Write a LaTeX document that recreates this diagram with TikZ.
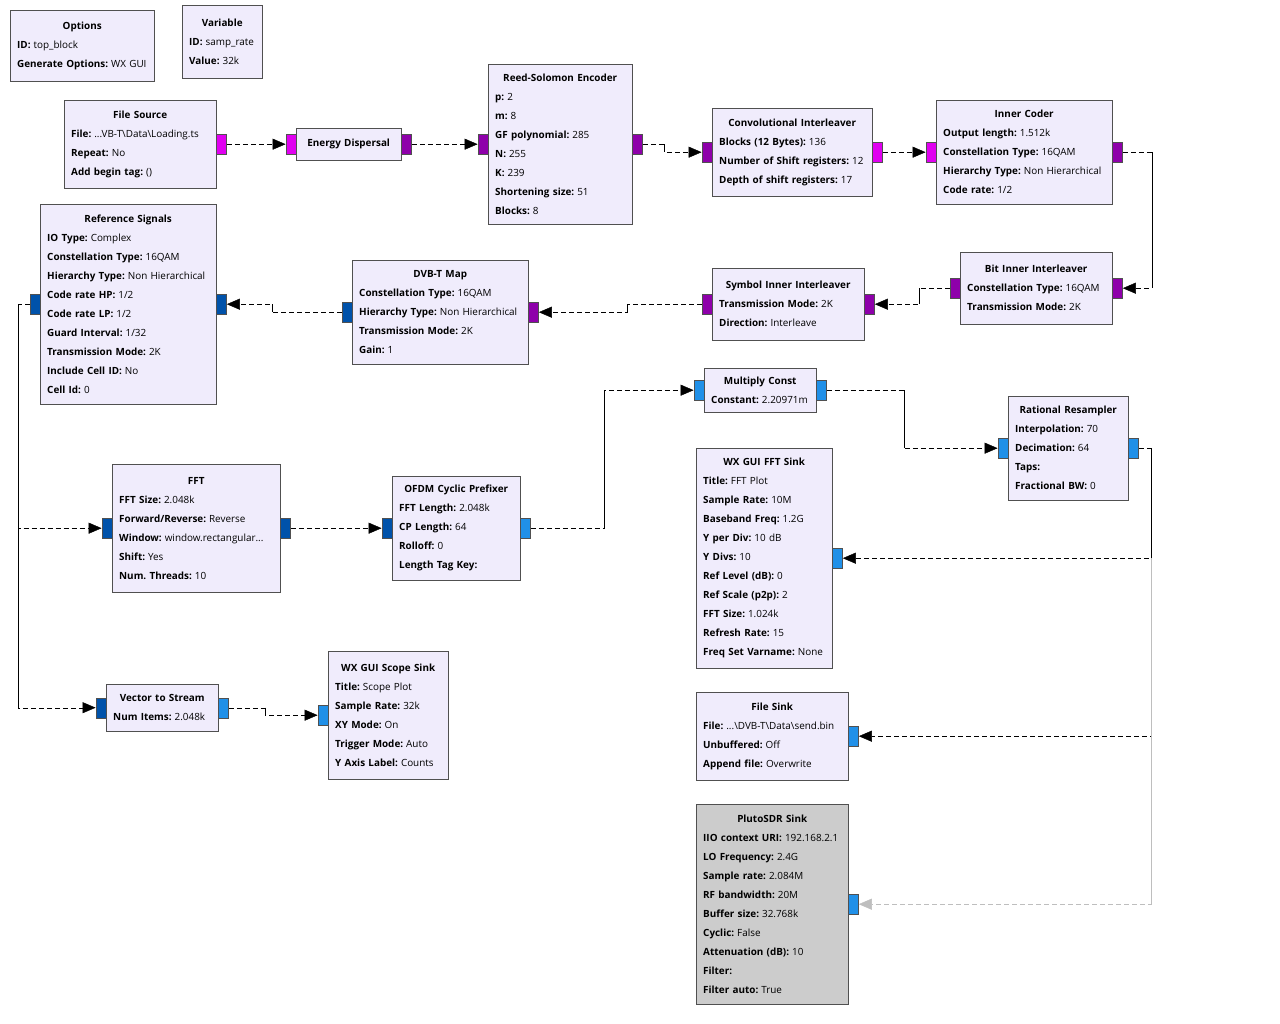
\documentclass[tikz,border=0pt]{standalone}
\usepackage{fontspec}
\setmainfont{Open Sans}
\usetikzlibrary{arrows.meta}
\definecolor{boxfill}{RGB}{240,236,252}
\definecolor{boxline}{RGB}{80,80,80}
\definecolor{plutofill}{RGB}{204,204,204}
\definecolor{pmag}{RGB}{224,0,240}
\definecolor{ppur}{RGB}{142,0,170}
\definecolor{pdblue}{RGB}{0,82,170}
\definecolor{plblue}{RGB}{32,144,232}
\definecolor{offwire}{RGB}{190,190,190}
\frenchspacing
\newcommand{\btitle}[1]{\hspace*{\fill}\textbf{#1}\hspace*{\fill}\null}
\newcommand{\prm}[2]{\mbox{\textbf{#1:}\hspace{3pt}#2}}

\begin{document}
\begin{tikzpicture}[x=1pt, y=-1pt,
    block/.style = {draw=boxline, fill=boxfill, anchor=north west, inner xsep=7pt, inner ysep=0pt, align=left, font=\fontsize{9.9}{19}\selectfont},
    port/.style = {draw=boxline, minimum width=10pt, minimum height=20pt, inner sep=0pt},
    wire/.style = {dash pattern=on 5pt off 3pt, -{Triangle[length=13pt,width=11pt]}},
    offwire/.style = {wire, draw=offwire, -{Triangle[length=13pt,width=11pt,color=offwire]}}]
    \useasboundingbox[fill=white] (0,0) rectangle (1280,1024);

    % blocks
    \node[block, text width=130pt, minimum height=71pt] (Options) at (10,10)
        {\btitle{Options}\\ \prm{ID}{top\_block}\\ \prm{Generate Options}{WX GUI}};
    \node[block, text width=66pt, minimum height=73pt] (Variable) at (182,5)
        {\btitle{Variable}\\ \prm{ID}{samp\_rate}\\ \prm{Value}{32k}};
    \node[block, text width=138pt, minimum height=88pt] (FileSrc) at (64,100)
        {\btitle{File Source}\\ \prm{File}{...VB-T\textbackslash Data\textbackslash Loading.ts}\\ \prm{Repeat}{No}\\ \prm{Add begin tag}{()}};
    \node[block, text width=91pt, minimum height=32pt] (EnergyDisp) at (296,128)
        {\btitle{Energy Dispersal}};
    \node[block, text width=130pt, minimum height=160pt] (RSEnc) at (488,64)
        {\btitle{Reed-Solomon Encoder}\\ \prm{p}{2}\\ \prm{m}{8}\\ \prm{GF polynomial}{285}\\ \prm{N}{255}\\ \prm{K}{239}\\ \prm{Shortening size}{51}\\ \prm{Blocks}{8}};
    \node[block, text width=146pt, minimum height=88pt] (ConvInt) at (712,108)
        {\btitle{Convolutional Interleaver}\\ \prm{Blocks (12 Bytes)}{136}\\ \prm{Number of Shift registers}{12}\\ \prm{Depth of shift registers}{17}};
    \node[block, text width=162pt, minimum height=104pt] (InnerCoder) at (936,100)
        {\btitle{Inner Coder}\\ \prm{Output length}{1.512k}\\ \prm{Constellation Type}{16QAM}\\ \prm{Hierarchy Type}{Non Hierarchical}\\ \prm{Code rate}{1/2}};
    \node[block, text width=138pt, minimum height=72pt] (BitInt) at (960,252)
        {\btitle{Bit Inner Interleaver}\\ \prm{Constellation Type}{16QAM}\\ \prm{Transmission Mode}{2K}};
    \node[block, text width=138pt, minimum height=72pt] (SymInt) at (712,268)
        {\btitle{Symbol Inner Interleaver}\\ \prm{Transmission Mode}{2K}\\ \prm{Direction}{Interleave}};
    \node[block, text width=162pt, minimum height=104pt] (DvbtMap) at (352,260)
        {\btitle{DVB-T Map}\\ \prm{Constellation Type}{16QAM}\\ \prm{Hierarchy Type}{Non Hierarchical}\\ \prm{Transmission Mode}{2K}\\ \prm{Gain}{1}};
    \node[block, text width=162pt, minimum height=200pt] (RefSig) at (40,204)
        {\btitle{Reference Signals}\\ \prm{IO Type}{Complex}\\ \prm{Constellation Type}{16QAM}\\ \prm{Hierarchy Type}{Non Hierarchical}\\ \prm{Code rate HP}{1/2}\\ \prm{Code rate LP}{1/2}\\ \prm{Guard Interval}{1/32}\\ \prm{Transmission Mode}{2K}\\ \prm{Include Cell ID}{No}\\ \prm{Cell Id}{0}};
    \node[block, text width=154pt, minimum height=128pt] (Fft) at (112,464)
        {\btitle{FFT}\\ \prm{FFT Size}{2.048k}\\ \prm{Forward/Reverse}{Reverse}\\ \prm{Window}{window.rectangular...}\\ \prm{Shift}{Yes}\\ \prm{Num. Threads}{10}};
    \node[block, text width=114pt, minimum height=104pt] (Ofdm) at (392,476)
        {\btitle{OFDM Cyclic Prefixer}\\ \prm{FFT Length}{2.048k}\\ \prm{CP Length}{64}\\ \prm{Rolloff}{0}\\ \prm{Length Tag Key}{}};
    \node[block, text width=98pt, minimum height=44pt] (MultConst) at (704,368)
        {\btitle{Multiply Const}\\ \prm{Constant}{2.20971m}};
    \node[block, text width=106pt, minimum height=104pt] (Resamp) at (1008,396)
        {\btitle{Rational Resampler}\\ \prm{Interpolation}{70}\\ \prm{Decimation}{64}\\ \prm{Taps}{}\\ \prm{Fractional BW}{0}};
    \node[block, text width=122pt, minimum height=220pt] (FftSink) at (696,448)
        {\btitle{WX GUI FFT Sink}\\ \prm{Title}{FFT Plot}\\ \prm{Sample Rate}{10M}\\ \prm{Baseband Freq}{1.2G}\\ \prm{Y per Div}{10 dB}\\ \prm{Y Divs}{10}\\ \prm{Ref Level (dB)}{0}\\ \prm{Ref Scale (p2p)}{2}\\ \prm{FFT Size}{1.024k}\\ \prm{Refresh Rate}{15}\\ \prm{Freq Set Varname}{None}};
    \node[block, text width=138pt, minimum height=88pt] (FileSink) at (696,692)
        {\btitle{File Sink}\\ \prm{File}{...\textbackslash DVB-T\textbackslash Data\textbackslash send.bin}\\ \prm{Unbuffered}{Off}\\ \prm{Append file}{Overwrite}};
    \node[block, fill=plutofill, text width=138pt, minimum height=200pt] (Pluto) at (696,804)
        {\btitle{PlutoSDR Sink}\\ \prm{IIO context URI}{192.168.2.1}\\ \prm{LO Frequency}{2.4G}\\ \prm{Sample rate}{2.084M}\\ \prm{RF bandwidth}{20M}\\ \prm{Buffer size}{32.768k}\\ \prm{Cyclic}{False}\\ \prm{Attenuation (dB)}{10}\\ \prm{Filter}{}\\ \prm{Filter auto}{True}};
    \node[block, text width=98pt, minimum height=47pt] (Vec2Str) at (106,684)
        {\btitle{Vector to Stream}\\ \prm{Num Items}{2.048k}};
    \node[block, text width=106pt, minimum height=128pt] (ScopeSink) at (328,651)
        {\btitle{WX GUI Scope Sink}\\ \prm{Title}{Scope Plot}\\ \prm{Sample Rate}{32k}\\ \prm{XY Mode}{On}\\ \prm{Trigger Mode}{Auto}\\ \prm{Y Axis Label}{Counts}};

    % ports
    \node[port, fill=pmag, anchor=west] (FileSrcOut) at (FileSrc.east) {};
    \node[port, fill=pmag, anchor=east] (EnergyDispIn) at (EnergyDisp.west) {};
    \node[port, fill=ppur, anchor=west] (EnergyDispOut) at (EnergyDisp.east) {};
    \node[port, fill=ppur, anchor=east] (RSEncIn) at (RSEnc.west) {};
    \node[port, fill=ppur, anchor=west] (RSEncOut) at (RSEnc.east) {};
    \node[port, fill=ppur, anchor=east] (ConvIntIn) at (ConvInt.west) {};
    \node[port, fill=pmag, anchor=west] (ConvIntOut) at (ConvInt.east) {};
    \node[port, fill=pmag, anchor=east] (InnerCoderIn) at (InnerCoder.west) {};
    \node[port, fill=ppur, anchor=west] (InnerCoderOut) at (InnerCoder.east) {};
    \node[port, fill=ppur, anchor=west] (BitIntIn) at (BitInt.east) {};
    \node[port, fill=ppur, anchor=east] (BitIntOut) at (BitInt.west) {};
    \node[port, fill=ppur, anchor=west] (SymIntIn) at (SymInt.east) {};
    \node[port, fill=ppur, anchor=east] (SymIntOut) at (SymInt.west) {};
    \node[port, fill=ppur, anchor=west] (DvbtMapIn) at (DvbtMap.east) {};
    \node[port, fill=pdblue, anchor=east] (DvbtMapOut) at (DvbtMap.west) {};
    \node[port, fill=pdblue, anchor=west] (RefSigIn) at (RefSig.east) {};
    \node[port, fill=pdblue, anchor=east] (RefSigOut) at (RefSig.west) {};
    \node[port, fill=pdblue, anchor=east] (FftIn) at (Fft.west) {};
    \node[port, fill=pdblue, anchor=west] (FftOut) at (Fft.east) {};
    \node[port, fill=pdblue, anchor=east] (OfdmIn) at (Ofdm.west) {};
    \node[port, fill=plblue, anchor=west] (OfdmOut) at (Ofdm.east) {};
    \node[port, fill=plblue, anchor=east] (MultConstIn) at (MultConst.west) {};
    \node[port, fill=plblue, anchor=west] (MultConstOut) at (MultConst.east) {};
    \node[port, fill=plblue, anchor=east] (ResampIn) at (Resamp.west) {};
    \node[port, fill=plblue, anchor=west] (ResampOut) at (Resamp.east) {};
    \node[port, fill=plblue, anchor=west] (FftSinkIn) at (FftSink.east) {};
    \node[port, fill=plblue, anchor=west] (FileSinkIn) at (FileSink.east) {};
    \node[port, fill=plblue, anchor=west] (PlutoIn) at (Pluto.east) {};
    \node[port, fill=pdblue, anchor=east] (Vec2StrIn) at (Vec2Str.west) {};
    \node[port, fill=plblue, anchor=west] (Vec2StrOut) at (Vec2Str.east) {};
    \node[port, fill=plblue, anchor=east] (ScopeSinkIn) at (ScopeSink.west) {};

    % connections
    \draw[wire] (FileSrcOut) -- (EnergyDispIn);
    \draw[wire] (EnergyDispOut) -- (RSEncIn);
    \draw[wire] (RSEncOut.east) -- ++(21,0) coordinate (RSBend) |- (ConvIntIn.west);
    \draw (RSBend) -- (RSBend |- ConvIntIn);
    \draw[wire] (ConvIntOut) -- (InnerCoderIn);
    \draw[wire] (InnerCoderOut.east) -- ++(29,0) coordinate (ICBend) |- (BitIntIn.east);
    \draw (ICBend) -- (ICBend |- BitIntIn);
    \draw[wire] (BitIntOut.west) -- ++(-30,0) coordinate (BIBend) |- (SymIntIn.east);
    \draw (BIBend) -- (BIBend |- SymIntIn);
    \draw[wire] (SymIntOut.west) -- ++(-74,0) coordinate (SIBend) |- (DvbtMapIn.east);
    \draw (SIBend) -- (SIBend |- DvbtMapIn);
    \draw[wire] (DvbtMapOut.west) -- ++(-69,0) coordinate (DMBend) |- (RefSigIn.east);
    \draw (DMBend) -- (DMBend |- RefSigIn);
    \draw[wire] (RefSigOut.west) -- ++(-11,0) coordinate (RefBend) |- (FftIn.west);
    \draw[wire] (RefBend) |- (Vec2StrIn.west);
    \draw (RefBend) -- (RefBend |- Vec2StrIn);
    \draw[wire] (FftOut) -- (OfdmIn);
    \draw[wire] (OfdmOut.east) -- ++(73,0) coordinate (OPBend) |- (MultConstIn.west);
    \draw (OPBend) -- (OPBend |- MultConstIn);
    \draw[wire] (MultConstOut.east) -- ++(77,0) coordinate (MCBend) |- (ResampIn.west);
    \draw (MCBend) -- (MCBend |- ResampIn);
    \draw[wire] (Vec2StrOut.east) -- ++(36,0) coordinate (VSBend) |- (ScopeSinkIn.west);
    \draw (VSBend) -- (VSBend |- ScopeSinkIn);
    \draw[wire] (ResampOut.east) -- ++(12,0) coordinate (RRBend) |- (FileSinkIn.east);
    \draw[offwire] (RRBend |- FftSinkIn) |- (PlutoIn.east);
    \draw[offwire, -, solid] (RRBend |- FftSinkIn) -- (RRBend |- PlutoIn);
    \draw[wire] (RRBend) |- (FftSinkIn.east);
    \draw (RRBend) -- (RRBend |- FftSinkIn);
\end{tikzpicture}
\end{document}
